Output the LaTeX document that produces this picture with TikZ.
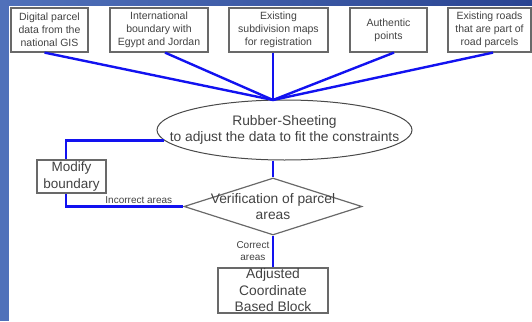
\documentclass[tikz,border=0pt]{standalone}
\usepackage{fontspec}
\setmainfont{Liberation Sans}
\usetikzlibrary{calc, positioning, shapes.geometric}
\definecolor{framecol}{RGB}{80, 113, 186}
\definecolor{framedark}{RGB}{42, 68, 146}
\definecolor{linkcol}{RGB}{18, 18, 240}
\definecolor{edgecol}{RGB}{105, 105, 105}
\definecolor{textcol}{RGB}{66, 66, 66}
\tikzset{
  blk/.style    = {draw=edgecol, line width=1.2pt, align=center, text=textcol,
                   inner sep=0pt},
  src/.style    = {blk, minimum height=44pt, font=\fontsize{10.5}{13}\selectfont},
  bigtxt/.style = {align=center, text=textcol, inner sep=0pt,
                   font=\fontsize{13.8}{16.5}\selectfont},
  proc/.style   = {blk, ellipse, draw=edgecol!70!black, line width=1pt},
  check/.style  = {blk, diamond},
  small/.style  = {font=\fontsize{10}{12}\selectfont, text=textcol, align=center,
                   inner sep=1.5pt},
  link/.style   = {draw=linkcol, line width=2.4pt},
}
\begin{document}
\begin{tikzpicture}[x=1pt, y=-1pt]
  \useasboundingbox (0,0) rectangle (532,321);

  %% ---------------- slide frame ----------------
  \fill[framecol] (0,0) rectangle (9,321);
  \shade[left color=framecol, right color=framedark] (0,0) rectangle (532,5.5);

  %% ---------------- input data ----------------
  \node[src, minimum width=77pt] (gis) at (49.5,30)
       {Digital parcel\\data from the\\national GIS};
  \node[src, minimum width=98pt] (border) at (159,30)
       {International\\boundary with\\Egypt and Jordan};
  \node[src, minimum width=99pt] (subdiv) at (278.5,30)
       {Existing\\subdivision maps\\for registration};
  \node[src, minimum width=77pt] (auth) at (388.5,30)
       {Authentic\\points};
  \node[src, minimum width=83pt] (roads) at (489.5,30)
       {Existing roads\\that are part of\\road parcels};

  %% ---------------- processing ----------------
  \coordinate (hub) at (273,100);
  \node[proc, minimum width=255pt, minimum height=60pt,
        label={[bigtxt]center:{Rubber-Sheeting\\to adjust the data to fit the constraints}}]
       (rubber) at (284.5,130) {};
  \node[check, minimum width=178pt, minimum height=57pt,
        label={[bigtxt]center:{Verification of parcel\\areas}}]
       (verify) at (273,206.5) {};
  \node[blk, minimum width=69pt, minimum height=33pt,
        font=\fontsize{13.5}{17}\selectfont] (modify) at (71.5,176.5)
       {Modify\\boundary};
  \node[blk, minimum width=110pt, minimum height=45pt,
        label={[bigtxt]center:{Adjusted\\Coordinate\\Based Block}}]
       (block) at (273,290.5) {};

  %% ---------------- links ----------------
  \foreach \src/\dx in {gis/-5, border/6, auth/5.5, roads/3.5}
    \draw[link] ([xshift=\dx pt]\src.south) -- (hub);
  \draw[link] (subdiv.south -| hub) -- (hub);

  \draw[link] (rubber.185) -| ([xshift=-5.5pt]modify.north);
  \draw[link] ([xshift=-5.5pt]modify.south) |-
       node[small, above, pos=0.81] {Incorrect areas} (verify.west);
  \draw[link] (verify.north |- rubber.south) -- (verify.north);
  \draw[link] (verify.south) -- node[small, left=1pt] {Correct\\areas} (block.north);

\end{tikzpicture}
\end{document}
